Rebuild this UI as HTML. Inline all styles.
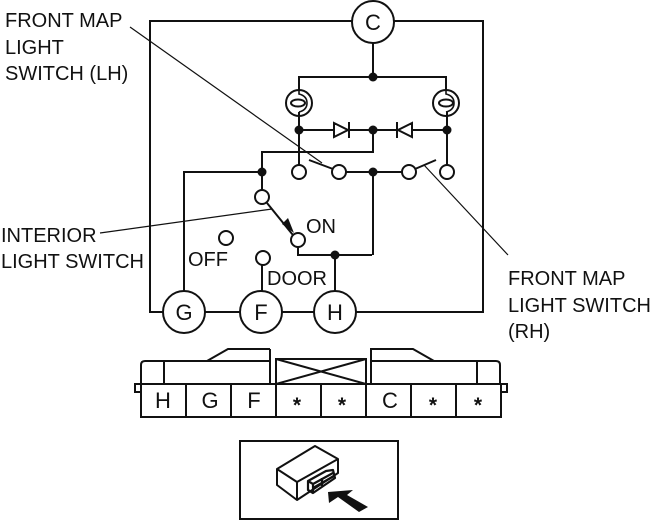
<!DOCTYPE html>
<html><head><meta charset="utf-8"><style>
html,body{margin:0;padding:0;background:#fff}
svg{display:block}
text{font-family:"Liberation Sans",sans-serif;fill:#111}
.l{font-size:20px}
.n{font-size:22px}
.s{font-size:21px;font-weight:bold}
</style></head><body>
<svg width="660" height="521" viewBox="0 0 660 521" xmlns="http://www.w3.org/2000/svg">
<g fill="none" stroke="#111" stroke-width="2">
<path d="M352 21H150V312H163M205 312H240M282 312H314M356 312H372M394 21H483V312H356"/>
<path d="M373 43V77M299 90V77H446V90M299 112V165M447 112V165M373 130V152H262V190M299 130H334M349 130H373M373 130H397M412 130H447"/>
<path d="M346 172H402M373 172V255M184 291V172H262M298 247V255H372M335 255V291M262 265V291"/>
<path d="M267 203L297 240"/>
<path d="M334 123L348 130L334 137ZM349 122V138M412 123L398 130L412 137ZM397 122V138"/>
<path d="M309 160L333 169M415 169L436 160"/>
<circle cx="373" cy="22" r="21"/><circle cx="184" cy="312" r="21"/><circle cx="261" cy="312" r="21"/><circle cx="335" cy="312" r="21"/>
<circle cx="299" cy="103" r="13"/><circle cx="446" cy="103" r="13"/>
<ellipse cx="298" cy="103" rx="7" ry="3.5"/><ellipse cx="446" cy="103" rx="7" ry="3.5"/>
<path d="M299 90V94Q307 96 307 103Q307 110 299 112M446 90V94Q454 96 454 103Q454 110 446 112" stroke-width="1.6"/>
<g fill="#fff"><circle cx="299" cy="172" r="7"/><circle cx="339" cy="172" r="7"/><circle cx="409" cy="172" r="7"/><circle cx="447" cy="172" r="7"/><circle cx="262" cy="197" r="7"/><circle cx="298" cy="240" r="7"/><circle cx="226" cy="238" r="7"/><circle cx="263" cy="258" r="7"/></g>
</g>
<g fill="#111"><circle cx="373" cy="77" r="4.5"/><circle cx="299" cy="130" r="4.5"/><circle cx="373" cy="130" r="4.5"/><circle cx="447" cy="130" r="4.5"/><circle cx="373" cy="172" r="4.5"/><circle cx="262" cy="172" r="4.5"/><circle cx="335" cy="255" r="4.5"/>
<path d="M294 233L282 224L288 218Z"/></g>
<g fill="none" stroke="#111" stroke-width="1.2">
<path d="M130 27L322 163M424 165L508 255M100 233L272 209"/>
</g>
<text class="l" x="5" y="27">FRONT MAP</text>
<text class="l" x="5" y="54">LIGHT</text>
<text class="l" x="5" y="80">SWITCH (LH)</text>
<text class="l" x="1" y="242">INTERIOR</text>
<text class="l" x="1" y="268">LIGHT SWITCH</text>
<text class="l" x="508" y="285">FRONT MAP</text>
<text class="l" x="508" y="312">LIGHT SWITCH</text>
<text class="l" x="508" y="338">(RH)</text>
<text class="l" x="306" y="233">ON</text>
<text class="l" x="188" y="266">OFF</text>
<text class="l" x="267" y="285">DOOR</text>
<g text-anchor="middle">
<text class="n" x="373" y="30">C</text><text class="n" x="184" y="320">G</text><text class="n" x="261" y="320">F</text><text class="n" x="335" y="320">H</text>
<text class="n" x="163" y="408">H</text><text class="n" x="210" y="408">G</text><text class="n" x="254" y="408">F</text>
<text class="n" x="390" y="408">C</text>
<text class="s" x="297" y="412">*</text><text class="s" x="342" y="412">*</text><text class="s" x="433" y="412">*</text><text class="s" x="478" y="412">*</text>
</g>
<g fill="none" stroke="#111" stroke-width="2">
<path d="M141 384H501V417H141ZM186 384V417M231 384V417M276 384V417M321 384V417M366 384V417M411 384V417M456 384V417"/>
<path d="M141 384H135V392H141M501 384H507V392H501"/>
<path d="M141 384V365Q141 361 145 361H270M164 361V384M270 349V384M207 361L228 349H270"/>
<path d="M276 384V359H366V384M276 359L366 384M366 359L276 384"/>
<path d="M371 384V349H413L434 361M371 361H496Q500 361 500 365V384M477 361V384"/>
</g>
<rect x="240" y="441" width="158" height="78" fill="none" stroke="#111" stroke-width="2"/>
<g fill="none" stroke="#111" stroke-width="2" stroke-linejoin="round">
<path d="M277 469L315 446L338 459V473L297 500L277 485ZM277 469L297 482L338 459M297 482V500"/>
<path d="M308 481L326 471L333 470L335 478L313 493L308 490ZM308 481L313 484V493M313 484L333 473M313 488L334 476M322 478V486" stroke-width="2.2"/>
</g>
<path d="M328 492L353 490L347 495L368 507L359 512L338 497L329 503Z" fill="#111"/>
</svg>
</body></html>
